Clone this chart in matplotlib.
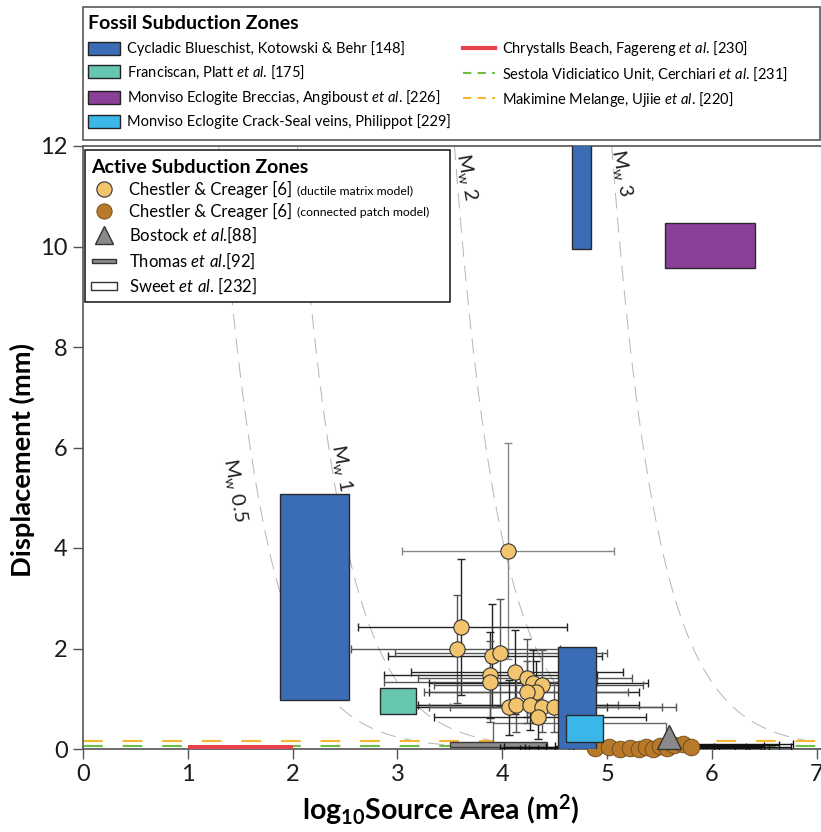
import numpy as np
import matplotlib
matplotlib.use("Agg")
import matplotlib.pyplot as plt
from matplotlib.patches import Rectangle, Patch
from matplotlib.lines import Line2D

FONT = "Lato"
plt.rcParams["font.family"] = [FONT, "DejaVu Sans"]
plt.rcParams["mathtext.fontset"] = "custom"
plt.rcParams["mathtext.rm"] = FONT
plt.rcParams["mathtext.it"] = FONT + ":italic"
plt.rcParams["mathtext.bf"] = FONT + ":bold"

# ---- fossil subduction zones (log10 area range, displacement range in mm)
cyc_x0 = [1.88, 4.53, 4.66]
cyc_x1 = [2.54, 4.89, 4.85]
cyc_y0 = [0.98, 0.00, 9.95]
cyc_y1 = [5.08, 2.03, 12.5]
fran_x = [2.83, 3.18]
fran_y = [0.70, 1.22]
brec_x = [5.55, 6.41]
brec_y = [9.57, 10.47]
crack_x = [4.61, 4.96]
crack_y = [0.14, 0.67]
chrys_x = [1.0, 2.0]
chrys_y = [0.0, 0.07]
sestola_y = 0.06
makimine_y = 0.15

# ---- active subduction zones
# Chestler & Creager, ductile matrix model
dm_x = [4.05, 3.61, 3.57, 3.90, 3.98, 3.88, 3.88, 4.12, 4.24, 4.29, 4.38, 4.32, 4.24, 4.06, 4.13, 4.26, 4.38, 4.34, 4.49]
dm_y = [3.94, 2.43, 1.99, 1.86, 1.92, 1.47, 1.34, 1.53, 1.41, 1.31, 1.27, 1.13, 1.13, 0.83, 0.88, 0.88, 0.84, 0.64, 0.83]
dm_xlo = [3.04, 2.62, 2.56, 2.91, 2.98, 2.87, 2.87, 3.13, 3.20, 3.30, 3.35, 3.30, 3.25, 3.06, 3.10, 3.20, 3.30, 3.35, 3.50]
dm_xhi = [5.07, 4.62, 4.55, 4.95, 5.00, 4.90, 4.90, 5.15, 5.24, 5.39, 5.34, 5.30, 5.20, 5.00, 5.10, 5.30, 5.52, 5.37, 5.66]
dm_yerr = [2.15, 1.35, 1.08, 1.03, 1.07, 0.85, 0.80, 0.84, 0.78, 0.66, 0.70, 0.62, 0.62, 0.55, 0.55, 0.50, 0.50, 0.45, 0.50]
# connected patch model
cp_x = [4.88, 5.02, 5.12, 5.22, 5.30, 5.37, 5.44, 5.50, 5.57, 5.64, 5.72, 5.80]
cp_y = [0.02, 0.03, 0.00, 0.02, 0.00, 0.03, 0.00, 0.05, 0.02, 0.08, 0.10, 0.03]
cp_xerr = [0.90, 1.00, 0.95, 1.00, 1.05, 0.95, 1.10, 1.00, 0.90, 1.00, 1.05, 0.95]
bostock = (5.59, 0.24)
thomas_x = [3.50, 4.43]
thomas_y = [0.03, 0.145]
sweet_x = [3.91, 5.56]
sweet_y = [0.0, 0.52]

mw_levels = [0.5, 1, 2, 3]
mw_lab_x = [1.45, 2.47, 3.66, 5.14]
mw_lab_y = [5.15, 5.6, 11.38, 11.46]
mu = 3.0e10

fig = plt.figure(figsize=(8.21, 8.32), dpi=100)
ax = fig.add_axes([83/821, 1-749/832, 738/821, (749-146)/832])

# moment magnitude curves
xs = np.linspace(0, 7.04, 500)
for mw, lx, ly in zip(mw_levels, mw_lab_x, mw_lab_y):
    d = 1000 * 10**(1.5*mw + 9.1) / (mu * 10**xs)
    ax.plot(xs, d, color="#b5b5b5", lw=0.7, dashes=(16, 9), zorder=1)
    lab = "%g" % mw
    ax.text(lx, ly, r"M$_{\rm w}$ " + lab, rotation=-80, fontsize=14.5,
            ha="center", va="center", color="#222222", zorder=2)

ax.axhline(makimine_y, color="#f5b731", lw=1.5, dashes=(9.5, 9.5), zorder=2)
ax.axhline(sestola_y, color="#6cbe45", lw=1.5, dashes=(9.5, 9.5), zorder=2)

def box(x, y, fc, z, ec="#2a2a2a", lw=1.0):
    ax.add_patch(Rectangle((x[0], y[0]), x[1]-x[0], y[1]-y[0], fc=fc, ec=ec, lw=lw, zorder=z))

box(sweet_x, sweet_y, "white", 2.2, ec="#666666")
box(thomas_x, thomas_y, "#8c8c8c", 2.4, ec="#3a3a3a")
box(chrys_x, chrys_y, "#e8414b", 2.7, ec="none")

# ductile matrix error bars
for i in range(len(dm_x)):
    c = "#888888" if i == 0 else ("#222222" if i % 2 else "#555555")
    ax.errorbar(dm_x[i], dm_y[i],
                xerr=[[dm_x[i]-dm_xlo[i]], [dm_xhi[i]-dm_x[i]]],
                yerr=dm_yerr[i], fmt="none", ecolor=c, elinewidth=1.0,
                capsize=3, capthick=1.0, zorder=3)
ax.errorbar(cp_x, cp_y, xerr=cp_xerr, fmt="none", ecolor="#111111",
            elinewidth=1.0, capsize=3, zorder=3)
ax.plot(dm_x, dm_y, "o", ms=11, mfc="#f3c46e", mec="#333333", mew=0.8, zorder=4)
ax.plot(cp_x, cp_y, "o", ms=12, mfc="#b87a2a", mec="#6b4515", mew=0.6,
        zorder=4, clip_on=False)

for x0, x1, y0, y1 in zip(cyc_x0, cyc_x1, cyc_y0, cyc_y1):
    box([x0, x1], [y0, y1], "#3a6db5", 5)
box(fran_x, fran_y, "#66c6b0", 5)
box(brec_x, brec_y, "#8a3f98", 5)
box(crack_x, crack_y, "#3bb6e8", 6)
ax.plot([bostock[0]], [bostock[1]], "^", ms=17, mfc="#8a8a8a", mec="#333333",
        mew=1.0, zorder=7, clip_on=False)

ax.set_xlim(0, 7.04)
ax.set_ylim(0, 12)
ax.set_xticks(range(0, 8))
ax.set_yticks(range(0, 13, 2))
ax.tick_params(direction="out", length=7, width=1, color="#555555",
               labelsize=17, labelcolor="#1a1a1a", pad=4)
ax.spines["right"].set_visible(False)
for s in ["left", "bottom", "top"]:
    ax.spines[s].set_color("#555555")
    ax.spines[s].set_linewidth(1.2)
ax.set_ylabel("Displacement (mm)", fontsize=19.7, fontweight="bold")
ax.set_xlabel(r"log$_{\mathbf{10}}$Source Area (m$^{\mathbf{2}}$)",
              fontsize=20.5, fontweight="bold")
ax.yaxis.set_label_coords(-48/738, 0.479)
ax.xaxis.set_label_coords(0.485, -43/603)

# active subduction zones legend
act_handles = [
    Line2D([], [], ls="none", marker="o", ms=11, mfc="#f3c46e", mec="#333333", mew=0.8),
    Line2D([], [], ls="none", marker="o", ms=11, mfc="#b87a2a", mec="#6b4515", mew=0.6),
    Line2D([], [], ls="none", marker="^", ms=13, mfc="#8a8a8a", mec="#333333"),
    Line2D([], [], ls="none", marker=[(-1.5, -0.3), (1.5, -0.3), (1.5, 0.3), (-1.5, 0.3), (-1.5, -0.3)],
           ms=18, mfc="#8c8c8c", mec="#333333"),
    Line2D([], [], ls="none", marker=[(-1.5, -0.5), (1.5, -0.5), (1.5, 0.5), (-1.5, 0.5), (-1.5, -0.5)],
           ms=19, mfc="white", mec="#333333"),
]
act_labels = ["Chestler & Creager [6]", "Chestler & Creager [6]",
              r"Bostock $\it{et\ al}$.[88]", r"Thomas $\it{et\ al}$.[92]",
              r"Sweet $\it{et\ al}$. [232]"]
ax.add_patch(Rectangle((2/738, (749-302)/603), 365/738, 152/603, transform=ax.transAxes,
                       fc="white", ec="#111111", lw=1.1, zorder=8, clip_on=False))
leg2 = ax.legend(act_handles, act_labels, loc="upper left",
                 bbox_to_anchor=(8/738, (749-159)/603), frameon=False,
                 title="Active Subduction Zones", alignment="left",
                 title_fontproperties={"weight": "bold", "size": 14},
                 fontsize=12, handlelength=1.6, handletextpad=0.7,
                 labelspacing=0.3, borderpad=0, borderaxespad=0)
leg2.set_zorder(9)

# fossil subduction zones legend
fos_handles = [Patch(fc="#3a6db5", ec="#222222"), Patch(fc="#66c6b0", ec="#222222"),
               Patch(fc="#8a3f98", ec="#222222"), Patch(fc="#3bb6e8", ec="#222222"),
               Line2D([], [], color="#e8414b", lw=3),
               Line2D([], [], color="#6cbe45", lw=1.5, dashes=(4, 3)),
               Line2D([], [], color="#f5b731", lw=1.5, dashes=(4, 3))]
fos_labels = ["Cycladic Blueschist, Kotowski & Behr [148]",
              r"Franciscan, Platt $\it{et\ al}$. [175]",
              r"Monviso Eclogite Breccias, Angiboust $\it{et\ al}$. [226]",
              "Monviso Eclogite Crack-Seal veins, Philippot [229]",
              r"Chrystalls Beach, Fagereng $\it{et\ al}$. [230]",
              r"Sestola Vidiciatico Unit, Cerchiari $\it{et\ al}$. [231]",
              r"Makimine Melange, Ujiie $\it{et\ al}$. [220]"]
fig.add_artist(Rectangle((83/821, 1-140/832), 737/821, 133/832, transform=fig.transFigure,
                         fill=False, ec="#666666", lw=1.3))
leg1 = fig.legend(fos_handles, fos_labels, loc="upper left",
                  bbox_to_anchor=(88/821, 1-15/832), ncol=2, frameon=False,
                  title="Fossil Subduction Zones", alignment="left",
                  title_fontproperties={"weight": "bold", "size": 14},
                  fontsize=10.5, handlelength=2.2, handleheight=1.0,
                  handletextpad=0.5, columnspacing=0.8, labelspacing=0.5,
                  borderpad=0, borderaxespad=0)

# smaller model notes next to Chestler & Creager entries
fig.canvas.draw()
r = fig.canvas.get_renderer()
for t, note in zip(leg2.get_texts()[:2], ["(ductile matrix model)", "(connected patch model)"]):
    bb = t.get_window_extent(r)
    ax.annotate(note, xy=(bb.x1 + 5, (bb.y0 + bb.y1) / 2 - 1), xycoords="figure pixels",
                fontsize=8.8, va="center", ha="left", zorder=10, annotation_clip=False)

fig.savefig("out.png", dpi=100)
